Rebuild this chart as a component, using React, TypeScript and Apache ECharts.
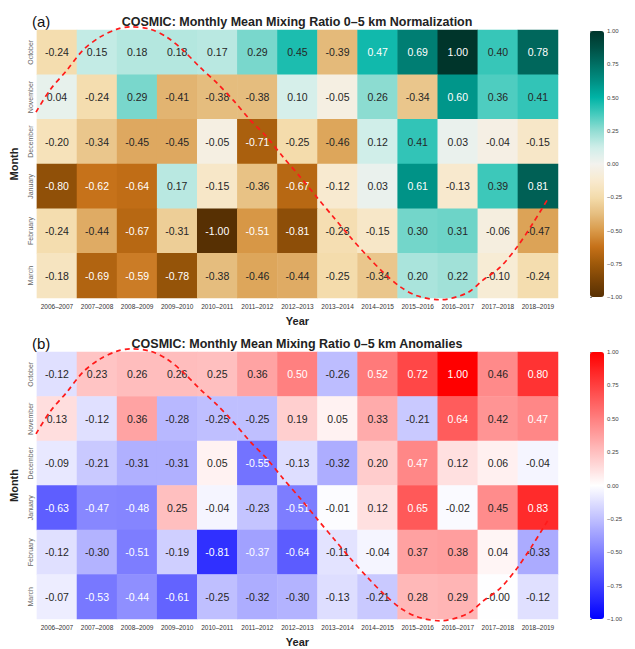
import React, { useEffect, useRef } from "react";
import * as echarts from "echarts";

const years = [
  "2006–2007", "2007–2008", "2008–2009", "2009–2010", "2010–2011", "2011–2012", "2012–2013",
  "2013–2014", "2014–2015", "2015–2016", "2016–2017", "2017–2018", "2018–2019",
];
const months = ["October", "November", "December", "January", "February", "March"];

const normalization: number[][] = [
  [-0.24, 0.15, 0.18, 0.18, 0.17, 0.29, 0.45, -0.39, 0.47, 0.69, 1.0, 0.4, 0.78],
  [0.04, -0.24, 0.29, -0.41, -0.38, -0.38, 0.1, -0.05, 0.26, -0.34, 0.6, 0.36, 0.41],
  [-0.2, -0.34, -0.45, -0.45, -0.05, -0.71, -0.25, -0.46, 0.12, 0.41, 0.03, -0.04, -0.15],
  [-0.8, -0.62, -0.64, 0.17, -0.15, -0.36, -0.67, -0.12, 0.03, 0.61, -0.13, 0.39, 0.81],
  [-0.24, -0.44, -0.67, -0.31, -1.0, -0.51, -0.81, -0.23, -0.15, 0.3, 0.31, -0.06, -0.47],
  [-0.18, -0.69, -0.59, -0.78, -0.38, -0.46, -0.44, -0.25, -0.34, 0.2, 0.22, -0.1, -0.24],
];

const anomalies: number[][] = [
  [-0.12, 0.23, 0.26, 0.26, 0.25, 0.36, 0.5, -0.26, 0.52, 0.72, 1.0, 0.46, 0.8],
  [0.13, -0.12, 0.36, -0.28, -0.25, -0.25, 0.19, 0.05, 0.33, -0.21, 0.64, 0.42, 0.47],
  [-0.09, -0.21, -0.31, -0.31, 0.05, -0.55, -0.13, -0.32, 0.2, 0.47, 0.12, 0.06, -0.04],
  [-0.63, -0.47, -0.48, 0.25, -0.04, -0.23, -0.51, -0.01, 0.12, 0.65, -0.02, 0.45, 0.83],
  [-0.12, -0.3, -0.51, -0.19, -0.81, -0.37, -0.64, -0.11, -0.04, 0.37, 0.38, 0.04, -0.33],
  [-0.07, -0.53, -0.44, -0.61, -0.25, -0.32, -0.3, -0.13, -0.21, 0.28, 0.29, -0.004, -0.12],
];

// dashed red curve, in cell units (x: columns from left edge, y: rows from top edge)
const curveX = [0, 0.35, 0.77, 1.17, 1.59, 2.02, 2.34, 2.84, 3.26, 3.66, 4.08, 4.51, 4.91, 5.33, 5.75, 6.15, 6.58, 7.0, 7.4, 7.82, 8.24, 8.64, 9.07, 9.49, 10.06, 10.73, 11.13, 11.56, 11.98, 12.38, 12.75];
const curveY = [1.84, 1.34, 0.9, 0.45, 0.16, -0.02, -0.07, -0.02, 0.16, 0.45, 0.83, 1.19, 1.57, 2.01, 2.4, 2.84, 3.29, 3.75, 4.18, 4.63, 5.05, 5.42, 5.75, 5.95, 6.04, 5.89, 5.6, 5.31, 4.86, 4.32, 3.78];

const brbgColors = [
  "#573003", "#7a4306", "#9e590a", "#c57018", "#d99a4a", "#e6be80", "#f4dcac", "#f8eacf",
  "#f3f2ee", "#cfeee9", "#92ddd3", "#45cbbd", "#00b3a6", "#008f83", "#006f64", "#004f44", "#00352b",
];
const bwrColors = ["#0000ff", "#ffffff", "#ff0000"];

const FONT = "'Liberation Sans', Arial, sans-serif";

const GRID_LEFT = 36;
const GRID_W = 522;
const panels = [
  { top: 30, height: 268, cbTop: 31, cbHeight: 266, label: "(a)", title: "COSMIC: Monthly Mean Mixing Ratio 0–5 km Normalization", values: normalization, colors: brbgColors, lo: -0.49, hi: 0.46 },
  { top: 352, height: 267, cbTop: 352, cbHeight: 267, label: "(b)", title: "COSMIC: Monthly Mean Mixing Ratio 0–5 km Anomalies", values: anomalies, colors: bwrColors, lo: -0.35, hi: 0.465 },
];

export default function App() {
  const ref = useRef<HTMLDivElement>(null);
  useEffect(() => {
    if (!ref.current) return;
    const chart = echarts.init(ref.current, undefined, { renderer: "svg" });
    const grid: any[] = [];
    const xAxis: any[] = [];
    const yAxis: any[] = [];
    const series: any[] = [];
    const visualMap: any[] = [];
    const graphic: any[] = [];

    panels.forEach((p, i) => {
      grid.push({ left: GRID_LEFT, top: p.top, width: GRID_W, height: p.height });
      xAxis.push({
        type: "category", gridIndex: i, data: years,
        axisLine: { show: false }, axisTick: { show: false }, splitArea: { show: false },
        axisLabel: { fontSize: 6.5, color: "#333", margin: 5, fontFamily: FONT, interval: 0 },
        name: "Year", nameLocation: "middle", nameGap: 17,
        nameTextStyle: { fontSize: 11, fontWeight: "bold", color: "#222", fontFamily: FONT },
      });
      yAxis.push({
        type: "category", gridIndex: i, data: months, inverse: true,
        axisLine: { show: false }, axisTick: { show: false }, splitArea: { show: false },
        axisLabel: { fontSize: 7, color: "#666", margin: 3, rotate: 90, fontFamily: FONT, interval: 0 },
        name: "Month", nameLocation: "middle", nameGap: 15, nameRotate: 90,
        nameTextStyle: { fontSize: 11, fontWeight: "bold", color: "#222", fontFamily: FONT },
      });
    });
    panels.forEach((p, i) => {
      grid.push({ left: 590, top: p.cbTop, width: 14, height: p.cbHeight });
      xAxis.push({ type: "value", gridIndex: 2 + i, show: false });
      yAxis.push({
        type: "value", gridIndex: 2 + i, min: -1, max: 1, interval: 0.25, position: "right",
        axisLine: { show: false }, splitLine: { show: false },
        axisTick: { show: true, length: 2, lineStyle: { color: "#666", width: 0.8 } },
        axisLabel: {
          fontSize: 6, color: "#444", margin: 3, fontFamily: FONT,
          formatter: (v: number) => (v < 0 ? "−" : "") + Math.abs(v).toFixed(2),
        },
      });
    });
    panels.forEach((p, i) => {
      grid.push({ left: GRID_LEFT, top: p.top, width: GRID_W, height: p.height });
      xAxis.push({ type: "value", gridIndex: 4 + i, min: 0, max: years.length, show: false });
      yAxis.push({ type: "value", gridIndex: 4 + i, min: 0, max: months.length, inverse: true, show: false });
    });

    panels.forEach((p, i) => {
      const data: any[] = [];
      p.values.forEach((row, r) =>
        row.forEach((v, c) => {
          const white = v <= p.lo || v >= p.hi;
          data.push({ value: [c, r, v], label: { color: white ? "#ffffff" : "#262626" } });
        })
      );
      series.push({
        type: "heatmap", xAxisIndex: i, yAxisIndex: i, data,
        label: {
          show: true, fontSize: 10.5, fontFamily: FONT,
          formatter: (q: any) => q.value[2].toFixed(2),
        },
        itemStyle: { borderWidth: 0 },
        emphasis: { disabled: true },
      });
      visualMap.push({
        type: "continuous", min: -1, max: 1, seriesIndex: i, calculable: false,
        left: 590, top: p.cbTop, itemWidth: 14, itemHeight: p.cbHeight, padding: 0,
        inRange: { color: p.colors }, showLabel: false, hoverLink: false,
      });
    });
    panels.forEach((p, i) => {
      series.push({
        type: "line", xAxisIndex: 4 + i, yAxisIndex: 4 + i, smooth: 0.3, symbol: "none", clip: false,
        data: curveX.map((x, k) => [x, curveY[k]]),
        lineStyle: { color: "#ff1a1a", width: 1.7, type: [5, 4] },
        z: 10,
      });
      graphic.push({
        type: "text", x: 32, y: p.top - 9,
        style: { text: p.label, font: `15px ${FONT}`, fill: "#111", textVerticalAlign: "middle" },
      });
      graphic.push({
        type: "text", x: GRID_LEFT + GRID_W / 2, y: p.top - 8,
        style: { text: p.title, font: `bold 12.5px ${FONT}`, fill: "#222", textAlign: "center", textVerticalAlign: "middle" },
      });
    });

    chart.setOption({
      animation: false,
      backgroundColor: "#ffffff",
      textStyle: { fontFamily: FONT },
      grid, xAxis, yAxis, series, visualMap, graphic,
    });
    return () => chart.dispose();
  }, []);
  return <div ref={ref} style={{ position: "fixed", left: 0, top: 0, width: 635, height: 649 }} />;
}
